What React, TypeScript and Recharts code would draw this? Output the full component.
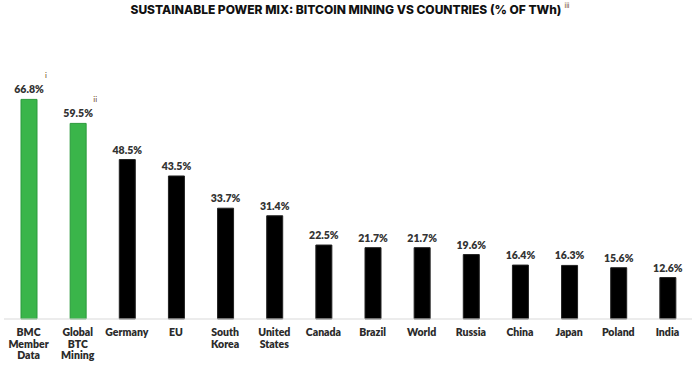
import React from "react"
import { BarChart, Bar, XAxis, YAxis, Cell, LabelList } from "recharts"

const categories = [
  "BMC Member Data",
  "Global BTC Mining",
  "Germany",
  "EU",
  "South Korea",
  "United States",
  "Canada",
  "Brazil",
  "World",
  "Russia",
  "China",
  "Japan",
  "Poland",
  "India",
]
const sustainableShare = [66.8, 59.5, 48.5, 43.5, 33.7, 31.4, 22.5, 21.7, 21.7, 19.6, 16.4, 16.3, 15.6, 12.6]
const footnotes = ["i", "ii", "", "", "", "", "", "", "", "", "", "", "", ""]
const bitcoinGroup = [true, true, false, false, false, false, false, false, false, false, false, false, false, false]

const FONT = "Lato, 'DejaVu Sans', sans-serif"
const GREEN = "#3ab54a"
const GREEN_EDGE = "#2b9a3c"
const NOTE = "#6b3f22"

const chartData = categories.map((name, i) => ({
  name,
  value: sustainableShare[i],
  note: footnotes[i],
  btc: bitcoinGroup[i],
}))

function CategoryTick({ x, y, payload }: any) {
  const lines = String(payload.value).split(" ")
  return (
    <text x={x} y={y} textAnchor="middle" fontFamily={FONT} fontSize={10.5} fontWeight={800} fill="#2b2b2b">
      {lines.map((line, i) => (
        <tspan key={i} x={x} dy={i === 0 ? 9 : 11.6}>
          {line}
        </tspan>
      ))}
    </text>
  )
}

function ValueLabel(props: any) {
  const { x, y, width, value, index } = props
  const cx = x + width / 2
  const note = footnotes[index]
  return (
    <g>
      <text x={cx} y={y - 6} textAnchor="middle" fontFamily={FONT} fontSize={10.5} fontWeight={800} fill="#333">
        {value.toFixed(1)}%
      </text>
      {note ? (
        <text x={cx + 17} y={y - 21} textAnchor="middle" fontFamily={FONT} fontSize={8} fill={NOTE}>
          {note}
        </text>
      ) : null}
    </g>
  )
}

export default function App() {
  return (
    <div style={{ position: "absolute", left: 0, top: 0, width: 700, height: 365, background: "#fff" }}>
      <div
        style={{
          position: "absolute",
          top: 1,
          left: 0,
          width: 700,
          textAlign: "center",
          fontFamily: "Inter, sans-serif",
          fontWeight: 800,
          fontSize: 12,
          color: "#111",
        }}
      >
        SUSTAINABLE POWER MIX: BITCOIN MINING VS COUNTRIES (% OF TWh)
        <sup style={{ fontSize: 7, fontWeight: 400, color: NOTE, marginLeft: 3, verticalAlign: 6 }}>iii</sup>
      </div>
      <BarChart
        width={700}
        height={365}
        data={chartData}
        margin={{ top: 56, right: 8, bottom: 0, left: 4 }}
        barCategoryGap={0}
      >
        <XAxis
          dataKey="name"
          interval={0}
          height={46}
          tickLine={false}
          axisLine={{ stroke: "#d9d9d9" }}
          tick={<CategoryTick />}
        />
        <YAxis hide domain={[0, 80]} />
        <Bar dataKey="value" barSize={16} isAnimationActive={false}>
          {chartData.map((d, i) => (
            <Cell
              key={`cell-${i}`}
              fill={d.btc ? GREEN : "#000"}
              stroke={d.btc ? GREEN_EDGE : "#222"}
              strokeWidth={1}
            />
          ))}
          <LabelList dataKey="value" content={<ValueLabel />} />
        </Bar>
      </BarChart>
    </div>
  )
}
